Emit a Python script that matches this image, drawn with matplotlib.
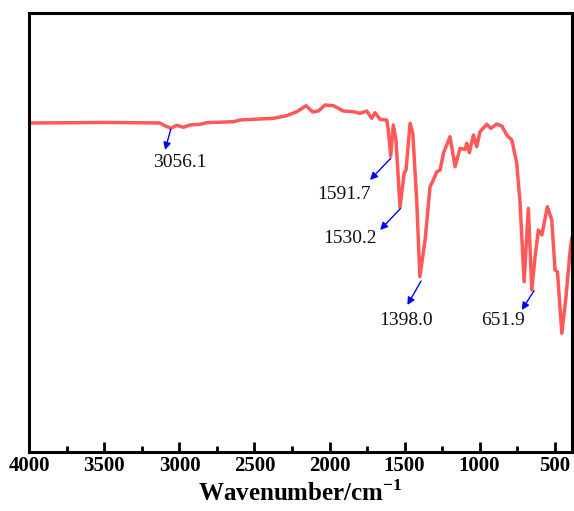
import matplotlib
matplotlib.use("Agg")
import matplotlib.pyplot as plt

# ---- data (wavenumber cm^-1, transmittance in arbitrary units) ----
wavenumber = [4000, 3800, 3530, 3300, 3130, 3108, 3058, 3018, 2974, 2930, 2863, 2818,
              2641, 2596, 2374, 2285, 2218, 2156, 2112, 2074, 2030, 1974, 1908, 1841,
              1797, 1752, 1719, 1697, 1663, 1619, 1608, 1592, 1575, 1557, 1530, 1503,
              1490, 1463, 1445, 1419, 1398, 1363, 1330, 1308, 1285, 1263, 1241, 1197,
              1163, 1130, 1097, 1085, 1068, 1041, 1019, 997, 952, 925, 885, 852, 819,
              785, 752, 730, 703, 675, 652, 630, 608, 585, 548, 519, 497, 481, 452,
              424, 397, 386]
transmittance = [328.5, 328.7, 329.0, 328.8, 328.5, 326.5, 323.2, 326.2, 324.2, 326.5, 327.2, 328.8,
                 329.8, 331.5, 333.2, 335.8, 339.8, 345.8, 339.5, 340.5, 346.5, 345.8, 340.5, 339.8,
                 338.2, 340.5, 333.2, 338.8, 332.2, 331.5, 321.5, 295.5, 326.5, 311.5, 244.2, 278.2,
                 281.5, 328.2, 318.2, 251.5, 174.8, 211.5, 264.8, 271.5, 279.8, 281.5, 298.2, 314.8,
                 284.8, 303.2, 302.0, 308.2, 298.8, 316.5, 304.8, 319.8, 327.2, 323.2, 327.5, 325.5, 316.5,
                 311.5, 288.2, 248.2, 169.8, 243.2, 161.5, 194.8, 221.5, 216.5, 244.8, 231.5, 181.5, 179.8, 118.2,
                 154.8, 199.8, 213.0]

peak_labels = ["3056.1", "1591.7", "1530.2", "1398.0", "651.9"]
peak_positions = [3058, 1592, 1530, 1398, 652]
tick_values = [4000, 3500, 3000, 2500, 2000, 1500, 1000, 500]

# ---- styling ----
plt.rcParams['font.family'] = ['Liberation Serif', 'DejaVu Serif']
plt.rcParams['mathtext.fontset'] = 'custom'
plt.rcParams['mathtext.rm'] = 'Liberation Serif'
plt.rcParams['mathtext.bf'] = 'Liberation Serif:bold'

fig = plt.figure(figsize=(5.74, 5.11), dpi=100)
ax = fig.add_axes([0.0512, 0.1164, 0.9448, 0.8572])

ax.plot(wavenumber, transmittance, color='#ff5858', lw=2.5, solid_joinstyle='round')

ax.set_xlim(4000, 386)
ax.set_ylim(0, 438)

# annotations: (arrow start, arrow tip, text centre) in data coords
annot = [
    ((3058, 322.2), (3096, 301.5), (2998, 288.8)),
    ((1592, 293.2), (1730, 271.5), (1905, 257.5)),
    ((1527, 243.0), (1663, 221.5), (1861, 213.0)),
    ((1390, 170.5), (1481, 146.5), (1490, 131.5)),
    ((637, 160.8), (719, 141.5), (841, 131.5)),
]
for lab, (start, tip, tpos) in zip(peak_labels, annot):
    ax.annotate('', xy=tip, xytext=start,
                arrowprops=dict(arrowstyle='-|>', color='#0000ff', lw=1.0,
                                mutation_scale=11, shrinkA=0, shrinkB=0))
    ax.text(tpos[0], tpos[1], lab, ha='center', va='center', fontsize=14, color='#111111')

ax.set_xticks(tick_values)
ax.set_xticklabels([str(v) for v in tick_values], fontsize=15, fontweight='bold')
ax.set_xticks([3750, 3250, 2750, 2250, 1750, 1250, 750], minor=True)
ax.tick_params(axis='x', which='major', direction='in', length=7, width=2, pad=3)
ax.tick_params(axis='x', which='minor', direction='in', length=4, width=2)
ax.set_yticks([])
for s in ax.spines.values():
    s.set_linewidth(2.2)

ax.set_xlabel(r'Wavenumber/cm$^{\mathbf{-1}}$', fontsize=18, fontweight='bold', labelpad=3)

fig.savefig('out.png', dpi=100)
